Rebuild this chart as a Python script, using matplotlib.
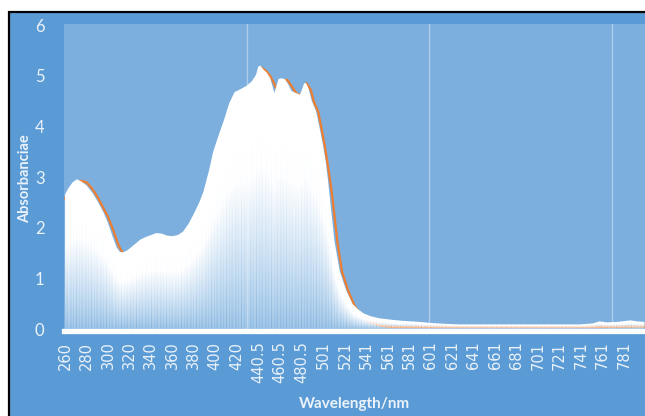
import numpy as np
import matplotlib
matplotlib.use("Agg")
import matplotlib.pyplot as plt
from matplotlib.patches import Rectangle, Polygon

plt.rcParams['font.family'] = ['Lato', 'DejaVu Sans']

# absorbance spectrum (white filled series)
wavelength = [260, 263, 267, 271, 275, 280, 286, 291, 296, 300, 304, 308, 311, 314, 318,
              321, 325, 330, 335, 340, 345, 350, 355, 360, 365, 370, 375, 380, 385, 389,
              394, 398, 403, 408, 413, 418, 423, 429, 434, 438, 440, 442, 445, 448, 451,
              453, 455, 457, 459, 462, 465, 468, 471, 475, 479, 481, 483, 485, 487, 490,
              494, 497, 500, 503, 505, 508, 511, 516, 522, 528, 533, 538, 545, 553, 565,
              575, 590, 600, 615, 628, 650, 680, 710, 740, 752, 758, 765, 775, 783, 787,
              793, 800]
absorbance = [2.66, 2.78, 2.90, 2.96, 2.92, 2.84, 2.68, 2.50, 2.30, 2.10, 1.85, 1.62, 1.53, 1.52, 1.56,
              1.61, 1.68, 1.77, 1.82, 1.86, 1.90, 1.89, 1.85, 1.84, 1.86, 1.93, 2.08, 2.28, 2.50, 2.72,
              3.12, 3.50, 3.82, 4.12, 4.46, 4.68, 4.73, 4.80, 4.89, 5.02, 5.18, 5.20, 5.12, 5.06, 4.96,
              4.82, 4.66, 4.80, 4.94, 4.95, 4.93, 4.83, 4.70, 4.66, 4.63, 4.74, 4.86, 4.84, 4.74, 4.50,
              4.30, 4.00, 3.68, 3.30, 2.95, 2.35, 1.75, 1.15, 0.77, 0.50, 0.40, 0.32, 0.26, 0.22, 0.19,
              0.17, 0.15, 0.13, 0.11, 0.10, 0.10, 0.10, 0.10, 0.10, 0.12, 0.16, 0.14, 0.15, 0.17, 0.18,
              0.16, 0.15]

# second series (orange line)
wavelength_2 = [260, 265, 270, 275, 280, 285, 290, 295, 300, 305, 310, 314, 320, 330, 340,
                350, 360, 370, 380, 390, 400, 410, 420, 430, 438, 443, 447, 451, 455, 458,
                462, 467, 471, 476, 481, 485, 489, 492, 496, 499, 502, 505, 508, 511, 514,
                518, 524, 530, 537, 545, 555, 565, 580, 620, 700, 760, 800]
absorbance_2 = [2.58, 2.74, 2.88, 2.93, 2.90, 2.78, 2.62, 2.42, 2.22, 1.95, 1.65, 1.50, 1.52, 1.70, 1.80,
                1.85, 1.80, 1.86, 2.14, 2.62, 3.40, 4.08, 4.56, 4.72, 4.92, 5.16, 5.10, 5.00, 4.84, 4.70,
                4.90, 4.92, 4.80, 4.64, 4.62, 4.85, 4.72, 4.48, 4.28, 3.96, 3.62, 3.22, 2.80, 2.25, 1.70,
                1.15, 0.75, 0.46, 0.26, 0.14, 0.07, 0.05, 0.05, 0.05, 0.05, 0.05, 0.06]

tick_pos = [260, 280, 300, 320, 340, 360, 380, 400, 420, 440.5, 460.5, 480.5, 501,
            521, 541, 561, 581, 601, 621, 641, 661, 681, 701, 721, 741, 761, 781]
tick_labels = ['260', '280', '300', '320', '340', '360', '380', '400', '420', '440.5', '460.5',
               '480.5', '501', '521', '541', '561', '581', '601', '621', '641', '661', '681',
               '701', '721', '741', '761', '781']
grid_pos = [429.3, 599.5, 769.5]

W, H = 645, 416
outer = '#5B9BD5'
inner = '#7CAFDD'
txt = '#EAF2FA'

fig = plt.figure(figsize=(W / 100, H / 100), dpi=100, facecolor='white')
fig.patches.append(Rectangle((8.5 / W, -0.1), 1.2, (H - 11.5) / H + 0.1,
                             transform=fig.transFigure, facecolor=outer,
                             edgecolor='black', linewidth=1.6, zorder=-10))

ax = fig.add_axes([64 / W, (H - 330.5) / H, (W - 64) / W, (330.5 - 24) / H])
ax.set_facecolor(inner)
ax.set_xlim(259, 800.5)
ax.set_ylim(-0.02, 6.02)

# orange line sits behind the white area
ax.plot(wavelength_2, absorbance_2, color='#ED7D31', lw=1.6, zorder=2, solid_joinstyle='round')

# white area, each column fading towards the baseline, with thin bar gaps
ncol = 581
xs = np.linspace(259, 800.5, ncol)
ys = np.linspace(0, 5.4, 700)
hs = np.interp(xs, wavelength, absorbance)
t = np.clip(ys[:, None] / hs[None, :], 0, 1)
cols = np.arange(ncol)
streak = (0.6 * (cols % 3 == 0) + 0.4 * (cols % 5 == 2))[None, :]
fade = np.clip(t / 0.6, 0, 1) ** 0.8
alpha = 0.3 + 0.7 * fade - 0.25 * streak * (1 - np.clip(t / 0.75, 0, 1))
img = np.ones((ys.size, ncol, 4))
img[..., 3] = np.clip(alpha, 0, 1)
img[..., 0] = 1.0 - 0.05 * (1 - fade)
img[..., 1] = 1.0 - 0.02 * (1 - fade)
im = ax.imshow(img, origin='lower', extent=(xs[0], xs[-1], 0, 5.4), aspect='auto',
               interpolation='nearest', zorder=3)
verts = np.column_stack([np.r_[wavelength[0], wavelength, wavelength[-1]],
                         np.r_[0, absorbance, 0]])
shape = Polygon(verts, closed=True, facecolor='none', edgecolor='none', transform=ax.transData)
ax.add_patch(shape)
im.set_clip_path(shape)

ax.set_xticks(tick_pos)
ax.set_xticklabels(tick_labels, rotation=90, fontsize=10.5, color=txt,
                   family=['DejaVu Sans'])
ax.set_xticks(grid_pos, minor=True)
ax.set_yticks(range(7))
ax.set_yticklabels([str(v) for v in range(7)], fontsize=12, color=txt)
ax.tick_params(axis='x', which='both', length=0, pad=8)
ax.tick_params(axis='y', length=0, pad=14)
ax.grid(which='minor', axis='x', color='white', alpha=0.4, lw=0.9)
ax.set_axisbelow(True)

for s in ['top', 'right', 'left']:
    ax.spines[s].set_visible(False)
ax.spines['bottom'].set_color('white')
ax.spines['bottom'].set_linewidth(3.8)
ax.spines['bottom'].set_zorder(5)

fig.text(25 / W, 1 - 179 / H, 'Absorbanciae', rotation=90, ha='center', va='center',
         fontsize=10.5, fontweight='bold', color=txt)
fig.text(354 / W, 1 - 404 / H, 'Wavelength/nm', ha='center', va='center',
         fontsize=11, fontweight='bold', color=txt)

fig.savefig('out.png', dpi=100, facecolor='white')
